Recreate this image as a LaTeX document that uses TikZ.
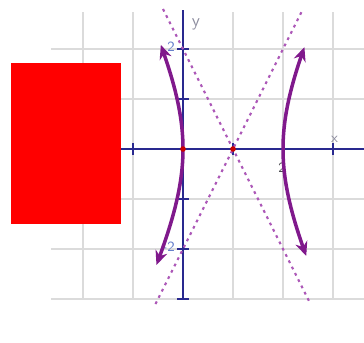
\documentclass[tikz,border=0pt]{standalone}
\usetikzlibrary{arrows.meta}
\definecolor{axisblue}{rgb}{0.16,0.16,0.56}
\definecolor{curvepurple}{rgb}{0.50,0.10,0.55}
\definecolor{asympurple}{rgb}{0.68,0.35,0.72}
\definecolor{labelgray}{rgb}{0.55,0.55,0.62}
\definecolor{labelblue}{rgb}{0.40,0.50,0.80}
\definecolor{labeldark}{rgb}{0.30,0.30,0.32}
\definecolor{gridgray}{rgb}{0.86,0.86,0.86}
\tikzset{
  gridline/.style={draw=gridgray, line width=1.6pt},
  axisline/.style={draw=axisblue, line width=1.6pt},
  tickmark/.style={draw=axisblue, line width=1.2pt},
  asymline/.style={draw=asympurple, line width=1.2pt, dash pattern=on 1.6pt off 2.4pt},
  branch/.style={draw=curvepurple, line width=2pt, {Stealth[length=8pt,width=7pt]}-{Stealth[length=8pt,width=7pt]}},
  lbl/.style={font=\sffamily\fontsize{8}{9}\selectfont, inner sep=0.5pt},
  vertexdot/.style={fill=red!80!black, draw=none, circle, inner sep=0pt, minimum size=3.2pt},
}
\begin{document}
\begin{tikzpicture}
\useasboundingbox (-3.66,-3.86) rectangle (3.62,2.98);
% grid
\foreach \x in {-2,-1,1,2,3} \draw[gridline] (\x,-3) -- (\x,2.74);
\foreach \y in {-3,-2,-1,1,2} \draw[gridline] (-2.64,\y) -- (3.62,\y);
% axes
\draw[axisline] (-2,0) -- (3.62,0);
\draw[axisline] (0,-3) -- (0,2.78);
\foreach \x in {-1,1,2,3} \draw[tickmark] (\x,-0.12) -- (\x,0.12);
\foreach \y in {-3,-2,-1,1,2} \draw[tickmark] (-0.12,\y) -- (0.12,\y);
% labels
\node[lbl, text=labelblue, anchor=east] (ly2) at (-0.14,2.04) {2};
\node[lbl, text=labelblue, anchor=east] (lym2) at (-0.14,-1.96) {-2};
\node[lbl, text=labeldark] (lx2) at (1.98,-0.37) {2};
\node[lbl, text=labelgray] (lx) at (3.03,0.19) {x};
\node[lbl, text=labelgray, font=\sffamily\fontsize{10}{11}\selectfont] (ly) at (0.26,2.5) {y};
% asymptotes
\draw[asymline] (-0.4,2.8) -- (2.55,-3.1);
\draw[asymline] (-0.55,-3.1) -- (2.4,2.8);
% hyperbola branches
\draw[branch] plot[smooth, samples=40, domain=0.91:-0.99, variable=\t] ({1-cosh(\t)},{2*sinh(\t)});
\draw[branch] plot[smooth, samples=40, domain=0.895:-0.93, variable=\t] ({1+cosh(\t)},{2*sinh(\t)});
% vertices / center
\node[vertexdot] (v0) at (0,0) {};
\node[vertexdot] (c0) at (1,0) {};
% red box
\fill[red] (-3.44,-1.5) rectangle (-1.24,1.72);
\end{tikzpicture}
\end{document}
